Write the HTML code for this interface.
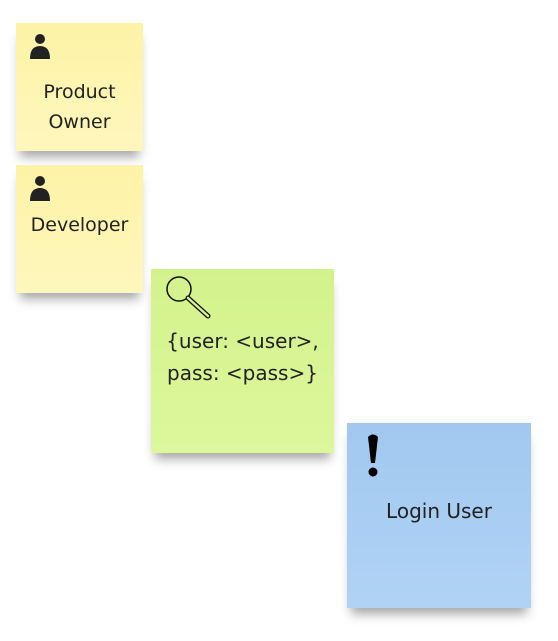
<!DOCTYPE html>
<html><head><style>
body{margin:0;width:558px;height:641px;background:#fff;position:relative;overflow:hidden;font-family:"DejaVu Sans",sans-serif;color:#222}
.n{position:absolute;box-shadow:0 10px 10px -4px rgba(0,0,0,.35)}
.t{position:absolute;left:0;right:0;text-align:center;font-size:19px;white-space:nowrap}
svg{position:absolute}
</style></head><body>
<div class="n" style="left:16px;top:23px;width:127px;height:128px;background:linear-gradient(#fdf3a6,#fef7bd)">
<svg style="left:13px;top:10px" width="22" height="26" viewBox="0 0 22 26"><circle cx="11" cy="6" r="5" fill="#222"/><path d="M1 26 Q1 13 11 13 Q21 13 21 26Z" fill="#222"/></svg>
<div class="t" style="top:54px;line-height:30px">Product<br>Owner</div></div>
<div class="n" style="left:16px;top:165px;width:127px;height:128px;background:linear-gradient(#fdf3a6,#fef7bd)">
<svg style="left:13px;top:10px" width="22" height="26" viewBox="0 0 22 26"><circle cx="11" cy="6" r="5" fill="#222"/><path d="M1 26 Q1 13 11 13 Q21 13 21 26Z" fill="#222"/></svg>
<div class="t" style="top:45px;line-height:30px">Developer</div></div>
<div class="n" style="left:151px;top:269px;width:183px;height:184px;background:linear-gradient(#d3f28c,#ddf79c)">
<svg style="left:14px;top:4px" width="50" height="48" viewBox="0 0 50 48"><circle cx="14" cy="16" r="12" fill="none" stroke="#111" stroke-width="1.5"/><path d="M23 25 L43 43" stroke="#111" stroke-width="5" stroke-linecap="round"/><path d="M23 25 L43 43" stroke="#d6f390" stroke-width="2.5" stroke-linecap="round"/></svg>
<div class="t" style="top:56px;line-height:32px;font-size:20px">{user: &lt;user&gt;,<br>pass: &lt;pass&gt;}</div></div>
<div class="n" style="left:347px;top:423px;width:184px;height:185px;background:linear-gradient(#a2c8f0,#b0d3f5)">
<svg style="left:18px;top:10px" width="16" height="46" viewBox="0 0 16 46"><path d="M3 4 Q8 -1 13 4 L10 30 L6 30Z" fill="#000"/><circle cx="8" cy="39" r="4.5" fill="#000"/></svg>
<div class="t" style="top:73px;line-height:30px;font-size:20px">Login User</div></div>
</body></html>
